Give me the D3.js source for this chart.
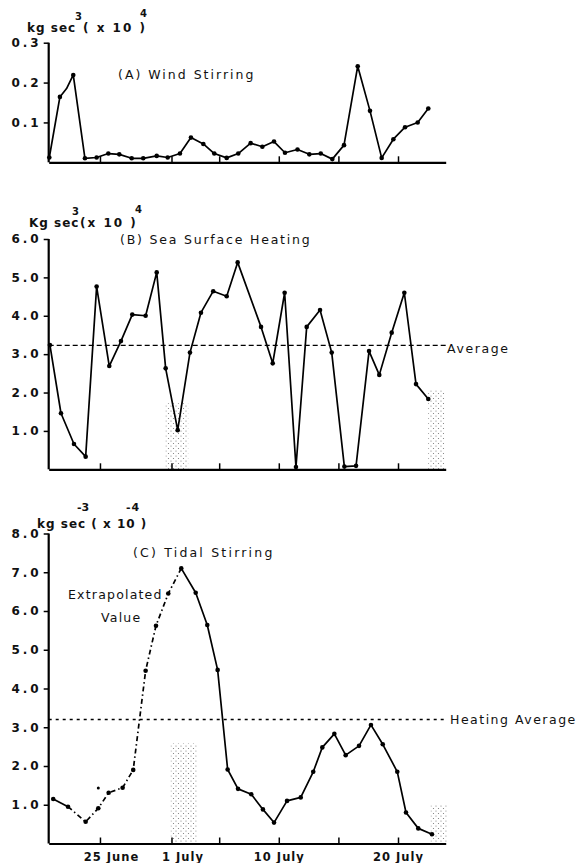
<!doctype html>
<html lang="en">
<head>
<meta charset="utf-8">
<title>Wind stirring, sea surface heating and tidal stirring</title>
<style>
  body { margin: 0; background: #fff; }
  svg text { font-family: "DejaVu Sans", sans-serif; fill: #111; }
</style>
</head>
<body>
<div id="chart"></div>
<script src="https://cdn.jsdelivr.net/npm/d3@7"></script>
<script>
// day numbers counted from 1 June (1 July = 31)
const tickDays = [25, 31, 35, 40, 45, 50];
const tickLabels = {25: "25 June", 31: "1 July", 40: "10 July", 50: "20 July"};

// (A) wind stirring
const windDays = [20.75, 21.64, 22.2, 22.76, 23.74, 24.72, 25.7, 26.62, 27.66, 28.63, 29.76, 30.68,
  31.71, 32.63, 33.67, 34.59, 35.63, 36.6, 37.64, 38.62, 39.6, 40.52, 41.57, 42.56, 43.52, 44.49,
  45.47, 46.62, 47.65, 48.63, 49.61, 50.59, 51.65, 52.54];
const windVals = [0.012, 0.164, 0.185, 0.219, 0.01, 0.012, 0.022, 0.02, 0.01, 0.01, 0.016, 0.012,
  0.022, 0.062, 0.046, 0.022, 0.011, 0.022, 0.048, 0.039, 0.052, 0.024, 0.032, 0.02, 0.022, 0.008,
  0.043, 0.241, 0.129, 0.011, 0.058, 0.088, 0.1, 0.135];
const windNoDot = [2];

// (B) sea surface heating
const heatDays = [20.8, 21.73, 22.82, 23.8, 24.72, 25.78, 26.76, 27.71, 28.83, 29.76, 30.51, 31.52,
  32.55, 33.47, 34.5, 35.63, 36.55, 38.51, 39.49, 40.49, 41.44, 42.34, 43.46, 44.44, 45.5, 46.48,
  47.57, 48.43, 49.47, 50.53, 51.51, 52.54];
const heatVals = [3.24, 1.46, 0.66, 0.33, 4.76, 2.69, 3.34, 4.03, 4.0, 5.13, 2.63, 1.02,
  3.04, 4.08, 4.64, 4.51, 5.39, 3.71, 2.76, 4.6, 0.06, 3.71, 4.15, 3.04, 0.07, 0.09,
  3.08, 2.46, 3.56, 4.6, 2.22, 1.83];
const heatAverage = 3.23;
const heatShade = [[30.5, 32.4, 1.72], [52.54, 53.88, 2.06]];

// (C) tidal stirring
const tideDays = [21.08, 22.32, 23.8, 24.86, 25.73, 26.9, 27.79, 28.83, 29.7, 30.73, 31.82, 33.03,
  34.0, 34.87, 35.71, 36.58, 37.69, 38.67, 39.6, 40.69, 41.84, 42.89, 43.65, 44.66, 45.61, 46.73,
  47.73, 48.72, 49.94, 50.67, 51.7, 52.85];
const tideVals = [1.15, 0.95, 0.56, 0.91, 1.31, 1.44, 1.9, 4.46, 5.62, 6.45, 7.1, 6.47,
  5.64, 4.48, 1.91, 1.41, 1.27, 0.88, 0.54, 1.1, 1.19, 1.85, 2.48, 2.83, 2.28, 2.52,
  3.06, 2.56, 1.85, 0.8, 0.39, 0.24];
const tideExtrapolated = [1, 10]; // first and last index of the dashed stretch
const tideStray = [[24.86, 1.43]];
const tideShade = [[30.93, 33.11, 2.58], [52.74, 54.09, 1.0]];

const width = 582, height = 863;
const svg = d3.select("#chart").append("svg")
  .attr("width", width).attr("height", height);

const defs = svg.append("defs");
const pat = defs.append("pattern").attr("id", "stipple")
  .attr("width", 5).attr("height", 5).attr("patternUnits", "userSpaceOnUse");
pat.append("circle").attr("cx", 1).attr("cy", 1).attr("r", 0.6).attr("fill", "#777");
pat.append("circle").attr("cx", 3.5).attr("cy", 3.5).attr("r", 0.6).attr("fill", "#777");

const x = d3.scaleLinear().domain([20.7, 54]).range([48.7, 445.7]);
const yA = d3.scaleLinear().domain([0, 0.3]).range([162.3, 42.7]);
const yB = d3.scaleLinear().domain([0, 6]).range([469.3, 239]);
const yC = d3.scaleLinear().domain([0, 8]).range([843.5, 533.5]);

function drawAxes(y, ticks, fmt, showLabels) {
  const g = svg.append("g");
  const ya = g.append("g").attr("transform", `translate(${x.range()[0]},0)`)
    .call(d3.axisLeft(y).tickValues(ticks).tickFormat(fmt).tickSize(5).tickPadding(2));
  const xa = g.append("g").attr("transform", `translate(0,${y(0)})`)
    .call(d3.axisBottom(x).tickValues(tickDays).tickSizeInner(-6).tickSizeOuter(0).tickPadding(9)
      .tickFormat(d => showLabels ? (tickLabels[d] || "") : ""));
  g.selectAll(".domain").attr("stroke", "#000").attr("stroke-width", 2.2);
  g.selectAll(".tick line").attr("stroke", "#000").attr("stroke-width", 1.5);
  ya.selectAll("text").attr("font-size", 12).attr("font-weight", "bold")
    .attr("letter-spacing", 3).attr("font-family", "DejaVu Sans");
  xa.selectAll("text").attr("font-size", 11.5).attr("font-weight", "bold")
    .attr("letter-spacing", 1).attr("font-family", "DejaVu Sans")
    .attr("dx", d => (d === 25 || d === 31) ? 11 : 0);
  // y axis spans only to its top tick
  ya.select(".domain").attr("d", `M0,${y.range()[1]}V${y.range()[0]}`);
  return g;
}

function drawSeries(days, vals, y, noDot) {
  const pts = days.map((d, i) => [d, vals[i]]);
  const line = d3.line().x(d => x(d[0])).y(d => y(d[1]));
  svg.append("path").attr("d", line(pts)).attr("fill", "none")
    .attr("stroke", "#000").attr("stroke-width", 1.7).attr("stroke-linejoin", "round");
  svg.append("g").selectAll("circle").data(pts.filter((p, i) => !(noDot || []).includes(i)))
    .join("circle").attr("cx", d => x(d[0])).attr("cy", d => y(d[1])).attr("r", 2.3).attr("fill", "#000");
}

function drawShade(rows, y) {
  svg.append("g").selectAll("rect").data(rows).join("rect")
    .attr("x", d => x(d[0])).attr("width", d => x(d[1]) - x(d[0]))
    .attr("y", d => y(d[2])).attr("height", d => y(0) - y(d[2]))
    .attr("fill", "url(#stipple)");
}

function label(txt, px, py, size, weight, spacing) {
  return svg.append("text").attr("x", px).attr("y", py).attr("font-size", size || 11)
    .attr("font-weight", weight || "normal").attr("letter-spacing", spacing == null ? 1 : spacing).text(txt);
}

// ---------- (A) ----------
drawAxes(yA, [0.1, 0.2, 0.3], d3.format(".1f"), false);
drawSeries(windDays, windVals, yA, windNoDot);
label("kg sec", 27, 32, 12, "bold", 1);
label("3", 75, 20, 10, "bold", 0);
label("( x 10 )", 83, 32, 12, "bold", 2);
label("4", 140, 17, 10, "bold", 0);
label("(A) Wind Stirring", 118, 79, 12.5, "normal", 2);

// ---------- (B) ----------
drawShade(heatShade, yB);
drawAxes(yB, [1, 2, 3, 4, 5, 6], d3.format(".1f"), false);
svg.append("line").attr("x1", x.range()[0]).attr("x2", x.range()[1])
  .attr("y1", yB(heatAverage)).attr("y2", yB(heatAverage))
  .attr("stroke", "#000").attr("stroke-width", 1.3).attr("stroke-dasharray", "5,3");
drawSeries(heatDays, heatVals, yB);
label("Kg sec", 29, 227, 12, "bold", 1);
label("3", 72, 215, 10, "bold", 0);
label("(x 10 )", 80, 227, 12, "bold", 2);
label("4", 135, 213, 10, "bold", 0);
label("(B) Sea Surface Heating", 120, 244, 12.5, "normal", 1.8);
label("Average", 447, 353, 12.5, "normal", 1.6);

// ---------- (C) ----------
drawShade(tideShade, yC);
drawAxes(yC, [1, 2, 3, 4, 5, 6, 7, 8], d3.format(".1f"), true);
svg.append("line").attr("x1", x.range()[0]).attr("x2", x.range()[1])
  .attr("y1", yC(heatAverage - 0.03)).attr("y2", yC(heatAverage - 0.03))
  .attr("stroke", "#000").attr("stroke-width", 1.3).attr("stroke-dasharray", "3,4");
{
  const pts = tideDays.map((d, i) => [d, tideVals[i]]);
  const line = d3.line().x(d => x(d[0])).y(d => yC(d[1]));
  const [a, b] = tideExtrapolated;
  svg.append("path").attr("d", line(pts.slice(0, a + 1))).attr("fill", "none")
    .attr("stroke", "#000").attr("stroke-width", 1.7);
  svg.append("path").attr("d", line(pts.slice(a, b + 1))).attr("fill", "none")
    .attr("stroke", "#000").attr("stroke-width", 1.7).attr("stroke-dasharray", "5,3,1.5,3");
  svg.append("path").attr("d", line(pts.slice(b))).attr("fill", "none")
    .attr("stroke", "#000").attr("stroke-width", 1.7).attr("stroke-linejoin", "round");
  svg.append("g").selectAll("circle").data(pts).join("circle")
    .attr("cx", d => x(d[0])).attr("cy", d => yC(d[1])).attr("r", 2.3).attr("fill", "#000");
  svg.append("g").selectAll("circle").data(tideStray).join("circle")
    .attr("cx", d => x(d[0])).attr("cy", d => yC(d[1])).attr("r", 1.5).attr("fill", "#000");
}
label("-3", 77, 511, 11, "bold", 0);
label("-4", 126, 511, 11, "bold", 1);
label("kg sec ( x 10 )", 37, 528, 12, "bold", 1);
label("(C) Tidal Stirring", 133, 557, 12.5, "normal", 2.2);
label("Extrapolated", 68, 599, 12.5, "normal", 1.2);
label("Value", 101, 622, 12.5, "normal", 1.2);
label("Heating Average", 450, 724, 12.5, "normal", 1.5);
</script>
</body>
</html>
